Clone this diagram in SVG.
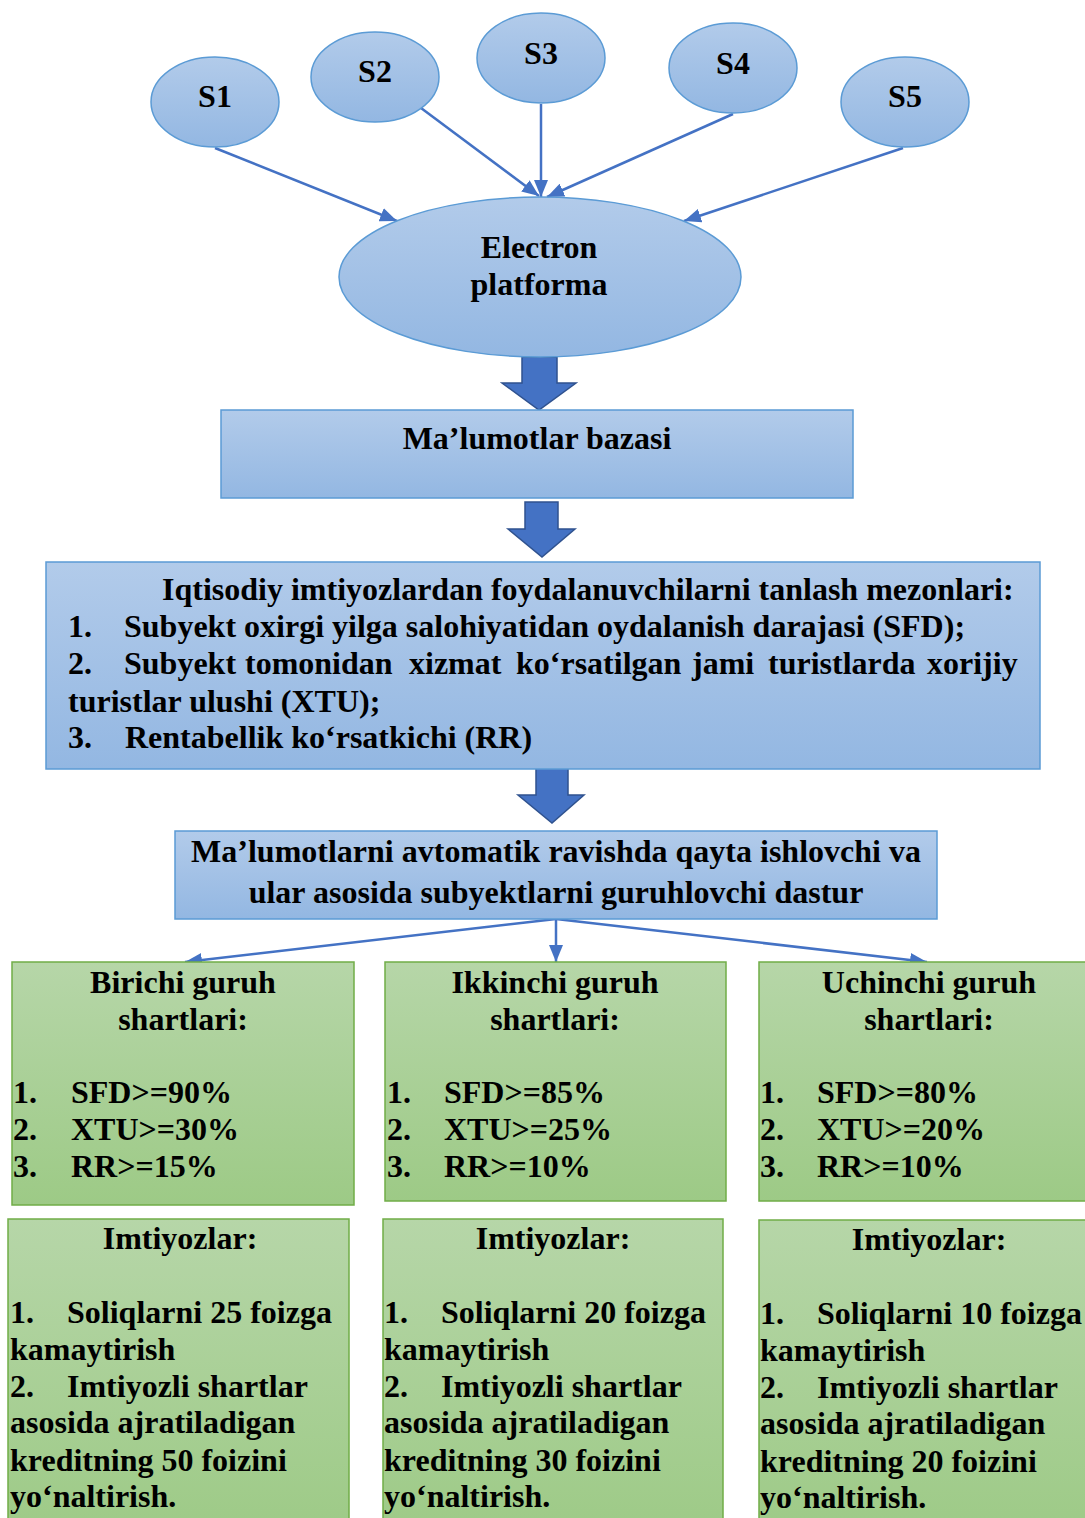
<svg xmlns="http://www.w3.org/2000/svg" width="1085" height="1518" viewBox="0 0 1085 1518">
<defs>
<linearGradient id="gBlue" x1="0" y1="0" x2="0" y2="1">
<stop offset="0" stop-color="#b2cbea"/>
<stop offset="1" stop-color="#93b7e2"/>
</linearGradient>
<linearGradient id="gGreen" x1="0" y1="0" x2="0" y2="1">
<stop offset="0" stop-color="#b6d6a8"/>
<stop offset="1" stop-color="#9dca86"/>
</linearGradient>
<marker id="ah" markerUnits="userSpaceOnUse" markerWidth="18" markerHeight="14" refX="17" refY="7" orient="auto">
<path d="M0,0 L17,7 L0,14 Z" fill="#4472c4"/>
</marker>
</defs>
<style>
.bl{fill:url(#gBlue);stroke:#5b9bd5;stroke-width:1.5}
.gr{fill:url(#gGreen);stroke:#70ad47;stroke-width:1.5}
.ba{fill:#4472c4;stroke:#2f528f;stroke-width:1.5}
.cn{stroke:#4472c4;stroke-width:2.5;fill:none;marker-end:url(#ah)}
text{font-family:"Liberation Serif","Times New Roman",serif;font-weight:bold;font-size:32px;fill:#000}
.c{text-anchor:middle}
</style>

<g id="connectors">
<line class="cn" x1="215" y1="148" x2="397" y2="221"/>
<line class="cn" x1="421" y1="108" x2="539" y2="196"/>
<line class="cn" x1="541" y1="104" x2="541" y2="197"/>
<line class="cn" x1="733" y1="114" x2="547" y2="197"/>
<line class="cn" x1="903" y1="148" x2="684" y2="221"/>
<line class="cn" x1="556" y1="919" x2="185" y2="962"/>
<line class="cn" x1="556" y1="919" x2="556" y2="962"/>
<line class="cn" x1="556" y1="919" x2="927" y2="962"/>
<polygon class="ba" points="522,357 557,357 557,383 576,383 539,410 502,383 522,383"/>
<polygon class="ba" points="525,502 558,502 558,529 575,529 542,557 508,529 525,529"/>
<polygon class="ba" points="536,768 568,768 568,795 584,795 552,823 518,795 536,795"/>
</g>

<g id="S1"><ellipse class="bl" cx="215" cy="102" rx="64" ry="45"/><text class="c" x="215" y="107">S1</text></g>
<g id="S2"><ellipse class="bl" cx="375" cy="77" rx="64" ry="45"/><text class="c" x="375" y="82">S2</text></g>
<g id="S3"><ellipse class="bl" cx="541" cy="58" rx="64" ry="45"/><text class="c" x="541" y="64">S3</text></g>
<g id="S4"><ellipse class="bl" cx="733" cy="68" rx="64" ry="45"/><text class="c" x="733" y="74">S4</text></g>
<g id="S5"><ellipse class="bl" cx="905" cy="102" rx="64" ry="45"/><text class="c" x="905" y="107">S5</text></g>

<g id="platform"><ellipse class="bl" cx="540" cy="277" rx="201" ry="80"/>
<text class="c" x="539" y="258">Electron</text>
<text class="c" x="539" y="295">platforma</text></g>

<g id="baza"><rect class="bl" x="221" y="410" width="632" height="88"/>
<text class="c" x="537" y="449">Ma’lumotlar bazasi</text></g>

<g id="mezonlar"><rect class="bl" x="46" y="562" width="994" height="207"/>
<text x="162" y="600">Iqtisodiy imtiyozlardan foydalanuvchilarni tanlash mezonlari:</text>
<text y="637"><tspan x="68">1.</tspan><tspan x="124">Subyekt oxirgi yilga salohiyatidan oydalanish darajasi (SFD);</tspan></text>
<text y="674"><tspan x="68">2.</tspan><tspan x="124">Subyekt</tspan><tspan x="245">tomonidan</tspan><tspan x="409">xizmat</tspan><tspan x="516">ko‘rsatilgan</tspan><tspan x="692">jami</tspan><tspan x="768">turistlarda</tspan><tspan x="927">xorijiy</tspan></text>
<text x="68" y="712">turistlar ulushi (XTU);</text>
<text y="748"><tspan x="68">3.</tspan><tspan x="125">Rentabellik ko‘rsatkichi (RR)</tspan></text></g>

<g id="dastur"><rect class="bl" x="175" y="831" width="762" height="88"/>
<text class="c" x="556" y="862">Ma’lumotlarni avtomatik ravishda qayta ishlovchi va</text>
<text class="c" x="556" y="903">ular asosida subyektlarni guruhlovchi dastur</text></g>

<g id="guruh1"><rect class="gr" x="12" y="962" width="342" height="243"/>
<text class="c" x="183" y="993">Birichi guruh</text>
<text class="c" x="183" y="1030">shartlari:</text>
<text y="1103"><tspan x="13">1.</tspan><tspan x="71">SFD&gt;=90%</tspan></text>
<text y="1140"><tspan x="13">2.</tspan><tspan x="71">XTU&gt;=30%</tspan></text>
<text y="1177"><tspan x="13">3.</tspan><tspan x="71">RR&gt;=15%</tspan></text></g>

<g id="guruh2"><rect class="gr" x="385" y="962" width="341" height="239"/>
<text class="c" x="555" y="993">Ikkinchi guruh</text>
<text class="c" x="555" y="1030">shartlari:</text>
<text y="1103"><tspan x="387">1.</tspan><tspan x="444">SFD&gt;=85%</tspan></text>
<text y="1140"><tspan x="387">2.</tspan><tspan x="444">XTU&gt;=25%</tspan></text>
<text y="1177"><tspan x="387">3.</tspan><tspan x="444">RR&gt;=10%</tspan></text></g>

<g id="guruh3"><rect class="gr" x="759" y="962" width="340" height="239"/>
<text class="c" x="929" y="993">Uchinchi guruh</text>
<text class="c" x="929" y="1030">shartlari:</text>
<text y="1103"><tspan x="760">1.</tspan><tspan x="817">SFD&gt;=80%</tspan></text>
<text y="1140"><tspan x="760">2.</tspan><tspan x="817">XTU&gt;=20%</tspan></text>
<text y="1177"><tspan x="760">3.</tspan><tspan x="817">RR&gt;=10%</tspan></text></g>

<g id="imtiyoz1"><rect class="gr" x="8" y="1219" width="341" height="320"/>
<text class="c" x="180" y="1249">Imtiyozlar:</text>
<text y="1323"><tspan x="10">1.</tspan><tspan x="67">Soliqlarni 25 foizga</tspan></text>
<text x="10" y="1360">kamaytirish</text>
<text y="1397"><tspan x="10">2.</tspan><tspan x="67">Imtiyozli shartlar</tspan></text>
<text x="10" y="1433">asosida ajratiladigan</text>
<text x="10" y="1471">kreditning 50 foizini</text>
<text x="10" y="1507">yo‘naltirish.</text></g>

<g id="imtiyoz2"><rect class="gr" x="383" y="1219" width="340" height="320"/>
<text class="c" x="553" y="1249">Imtiyozlar:</text>
<text y="1323"><tspan x="384">1.</tspan><tspan x="441">Soliqlarni 20 foizga</tspan></text>
<text x="384" y="1360">kamaytirish</text>
<text y="1397"><tspan x="384">2.</tspan><tspan x="441">Imtiyozli shartlar</tspan></text>
<text x="384" y="1433">asosida ajratiladigan</text>
<text x="384" y="1471">kreditning 30 foizini</text>
<text x="384" y="1507">yo‘naltirish.</text></g>

<g id="imtiyoz3"><rect class="gr" x="759" y="1220" width="340" height="320"/>
<text class="c" x="929" y="1250">Imtiyozlar:</text>
<text y="1324"><tspan x="760">1.</tspan><tspan x="817">Soliqlarni 10 foizga</tspan></text>
<text x="760" y="1361">kamaytirish</text>
<text y="1398"><tspan x="760">2.</tspan><tspan x="817">Imtiyozli shartlar</tspan></text>
<text x="760" y="1434">asosida ajratiladigan</text>
<text x="760" y="1472">kreditning 20 foizini</text>
<text x="760" y="1508">yo‘naltirish.</text></g>
</svg>
